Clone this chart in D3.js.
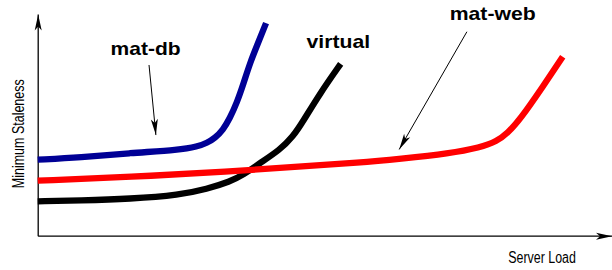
<!DOCTYPE html>
<html>
<head>
<meta charset="utf-8">
<script src="https://cdn.jsdelivr.net/npm/d3@7"></script>
<style>
  html, body { margin: 0; padding: 0; background: #fff; }
  svg { display: block; }
</style>
</head>
<body>
<svg id="chart" width="612" height="270"></svg>
<script>
// ---- data (load, staleness in arbitrary 0-100 units) ----
const matDbLoad  = [0, 7.4, 16.1, 24.8, 27.8, 29.5, 30.9, 32.3, 33.5, 34.7, 35.9, 37.0, 38.4, 39.8];
const matDbStale = [34.3, 35.3, 37.3, 38.7, 40.2, 41.8, 44.1, 47.7, 53.1, 59.9, 68.9, 77.9, 86.9, 95.9];

const virtualLoad  = [0, 7.4, 16.1, 24.8, 29.5, 33.5, 35.8, 38.7, 42.2, 44.5, 46.2, 49.2, 52.8];
const virtualStale = [15.5, 15.9, 16.6, 18.4, 21.1, 24.4, 27.4, 32.7, 38.7, 44.7, 51.4, 64.2, 77.5];

const matWebLoad  = [0, 16.1, 33.5, 45.7, 56.2, 63.1, 71.8, 77.1, 80.0, 81.9, 84.0, 88.0, 91.5];
const matWebStale = [24.8, 26.5, 28.9, 31.2, 33.0, 34.7, 37.1, 39.8, 42.5, 46.3, 52.2, 67.1, 80.7];

const seriesNames = ["mat-db", "virtual", "mat-web"];
const axisLabels = ["Server Load", "Minimum Staleness"];

// annotation anchors in data units: label point, arrow start, arrow tip
const labelLoad  = [18.8, 52.4, 79.3];
const labelStale = [81.5, 84.5, 97.3];
const arrowFromLoad  = [19.4, null, 74.8];
const arrowFromStale = [77.0, null, 92.0];
const arrowToLoad    = [20.6, null, 63.0];
const arrowToStale   = [45.4, null, 38.9];

// ---- layout / style ----
const colors = { "mat-db": "#000096", "virtual": "#000000", "mat-web": "#ff0000" };
const labelWidths = [70, 63.5, 86];
const drawOrder = ["mat-db", "virtual", "mat-web"];

const svg = d3.select("#chart");
const x = d3.scaleLinear().domain([0, 100]).range([37.7, 611.5]);
const y = d3.scaleLinear().domain([0, 100]).range([235.7, 14]);

const defs = svg.append("defs");
["axisArrow", "noteArrow"].forEach(id => {
  defs.append("marker")
    .attr("id", id)
    .attr("viewBox", "-17 -4 18 8")
    .attr("refX", 0).attr("refY", 0)
    .attr("markerUnits", "userSpaceOnUse")
    .attr("markerWidth", 18).attr("markerHeight", 8)
    .attr("orient", "auto")
    .append("path")
    .attr("d", "M0,0 L-16,-3.5 L-12,0 L-16,3.5 Z")
    .attr("fill", "#000");
});

// axes
const gx = svg.append("g")
  .attr("transform", `translate(0,${y(0)})`)
  .call(d3.axisBottom(x).tickValues([]).tickSizeOuter(0));
gx.select(".domain")
  .attr("stroke", "#000").attr("stroke-width", 1.3)
  .attr("marker-end", "url(#axisArrow)");

const gy = svg.append("g")
  .attr("transform", `translate(${x(0)},0)`)
  .call(d3.axisLeft(y).tickValues([]).tickSizeOuter(0));
gy.select(".domain")
  .attr("stroke", "#000").attr("stroke-width", 1.3)
  .attr("marker-end", "url(#axisArrow)");

// axis titles
svg.append("text")
  .attr("x", x(87.9)).attr("y", y(0) + 27.6)
  .attr("text-anchor", "middle")
  .attr("font-family", "'Liberation Sans Narrow', 'Liberation Sans', Arial, sans-serif")
  .attr("font-size", 16)
  .attr("textLength", 67.7).attr("lengthAdjust", "spacingAndGlyphs")
  .attr("fill", "#000")
  .text(axisLabels[0]);

svg.append("text")
  .attr("transform", `translate(${x(0) - 13.7},${(y(0) + y(100)) / 2 + 8.9}) rotate(-90)`)
  .attr("text-anchor", "middle")
  .attr("font-family", "'Liberation Sans Narrow', 'Liberation Sans', Arial, sans-serif")
  .attr("font-size", 16)
  .attr("textLength", 109).attr("lengthAdjust", "spacingAndGlyphs")
  .attr("fill", "#000")
  .text(axisLabels[1]);

// curves
const series = {
  "mat-db": matDbLoad.map((v, i) => [v, matDbStale[i]]),
  "virtual": virtualLoad.map((v, i) => [v, virtualStale[i]]),
  "mat-web": matWebLoad.map((v, i) => [v, matWebStale[i]])
};
const line = d3.line()
  .x(d => x(d[0])).y(d => y(d[1]))
  .curve(d3.curveBasis);

drawOrder.forEach(name => {
  svg.append("path")
    .datum(series[name])
    .attr("d", line)
    .attr("fill", "none")
    .attr("stroke", colors[name])
    .attr("stroke-width", 6.3)
    .attr("stroke-linecap", "butt")
    .attr("stroke-linejoin", "round");
});

// annotations
seriesNames.forEach((name, i) => {
  svg.append("text")
    .attr("x", x(labelLoad[i])).attr("y", y(labelStale[i]))
    .attr("text-anchor", "middle")
    .attr("font-family", "'Liberation Sans', Arial, Helvetica, sans-serif")
    .attr("font-weight", "bold")
    .attr("font-size", 19)
    .attr("textLength", labelWidths[i]).attr("lengthAdjust", "spacingAndGlyphs")
    .attr("fill", "#000")
    .text(name);
  if (arrowFromLoad[i] !== null) {
    svg.append("line")
      .attr("x1", x(arrowFromLoad[i])).attr("y1", y(arrowFromStale[i]))
      .attr("x2", x(arrowToLoad[i])).attr("y2", y(arrowToStale[i]))
      .attr("stroke", "#000").attr("stroke-width", 1)
      .attr("marker-end", "url(#noteArrow)");
  }
});
</script>
</body>
</html>
